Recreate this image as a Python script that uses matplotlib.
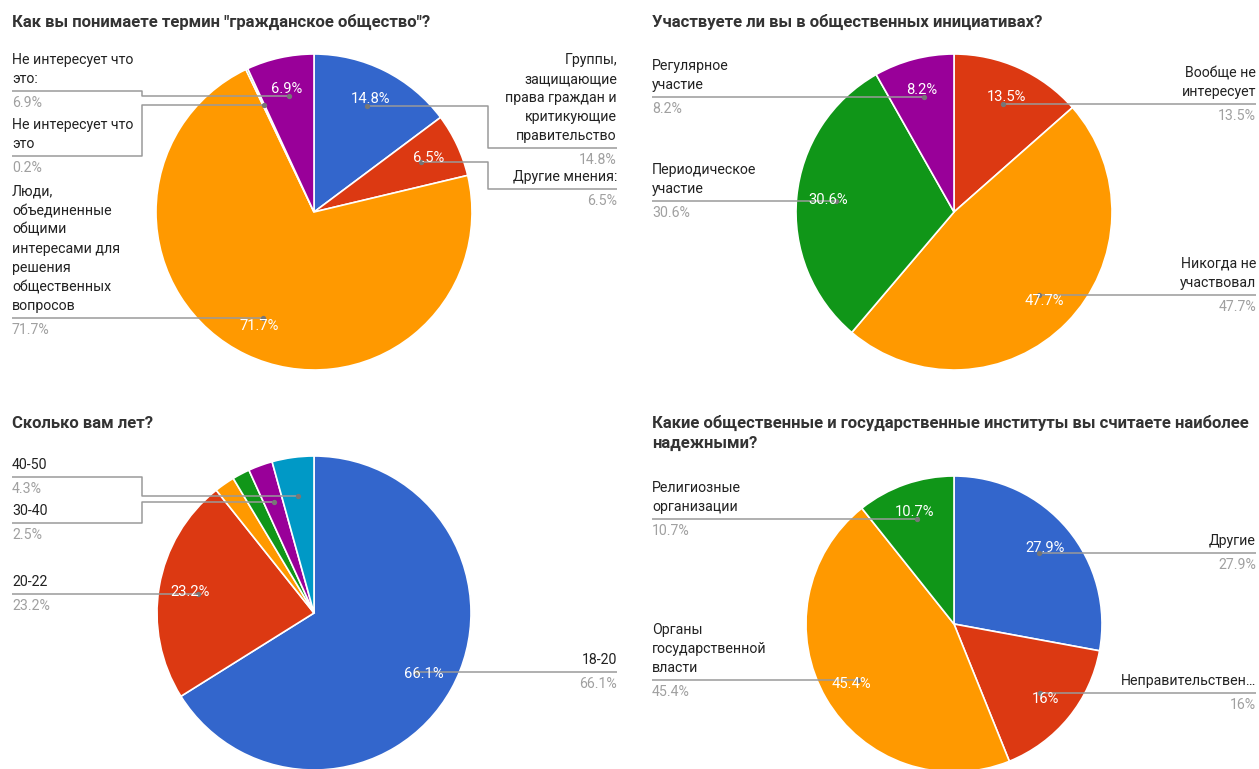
import matplotlib
matplotlib.use("Agg")
import matplotlib.pyplot as plt
import numpy as np

plt.rcParams['font.family'] = ['Roboto', 'DejaVu Sans']

W, H = 1259, 769

# ---------------- data ----------------
title1 = 'Как вы понимаете термин "гражданское общество"?'
labels1 = ['Группы,\nзащищающие\nправа граждан и\nкритикующие\nправительство',
           'Другие мнения:',
           'Люди,\nобъединенные\nобщими\nинтересами для\nрешения\nобщественных\nвопросов',
           'Не интересует что\nэто',
           'Не интересует что\nэто:']
values1 = [14.8, 6.5, 71.7, 0.2, 6.9]
pct1 = ['14.8%', '6.5%', '71.7%', '0.2%', '6.9%']

title2 = 'Участвуете ли вы в общественных инициативах?'
labels2 = ['Вообще не\nинтересует', 'Никогда не\nучаствовал',
           'Периодическое\nучастие', 'Регулярное\nучастие']
values2 = [13.5, 47.7, 30.6, 8.2]
pct2 = ['13.5%', '47.7%', '30.6%', '8.2%']

title3 = 'Сколько вам лет?'
labels3 = ['18-20', '20-22', '', '', '30-40', '40-50']
values3 = [66.1, 23.2, 2.1, 1.8, 2.5, 4.3]
pct3 = ['66.1%', '23.2%', '2.1%', '1.8%', '2.5%', '4.3%']

title4 = 'Какие общественные и государственные институты вы считаете наиболее\nнадежными?'
labels4 = ['Другие', 'Неправительствен…', 'Органы\nгосударственной\nвласти',
           'Религиозные\nорганизации']
values4 = [27.9, 16.0, 45.4, 10.7]
pct4 = ['27.9%', '16%', '45.4%', '10.7%']

BLUE, RED, ORANGE, GREEN, PURPLE, CYAN = '#3366cc', '#dc3912', '#ff9900', '#109618', '#990099', '#0099c6'
colors1 = [BLUE, RED, ORANGE, GREEN, PURPLE]
colors2 = [RED, ORANGE, GREEN, PURPLE]
colors3 = [BLUE, RED, ORANGE, GREEN, PURPLE, CYAN]
colors4 = [BLUE, RED, ORANGE, GREEN]

# ---------------- layout ----------------
charts = [
    dict(title=title1, tx=12, ty=22, c=(314, 212), r=158, labels=labels1, values=values1,
         pct=pct1, colors=colors1,
         side=['R', 'R', 'L', 'L', 'L'], liney=[148, 189, 318, 156, 91],
         elbow=[488, 488, None, 142, 142], lx=12, rx=617),
    dict(title=title2, tx=652, ty=22, c=(954, 212), r=158, labels=labels2, values=values2,
         pct=pct2, colors=colors2,
         side=['R', 'R', 'L', 'L'], liney=[104, 295, 201, 97],
         elbow=[None, None, None, None], lx=652, rx=1256),
    dict(title=title3, tx=12, ty=424, c=(314, 613), r=157, labels=labels3, values=values3,
         pct=pct3, colors=colors3,
         side=['R', 'L', None, None, 'L', 'L'], liney=[672, 594, 0, 0, 523, 477],
         elbow=[None, None, None, None, 142, 142], lx=12, rx=617),
    dict(title=title4, tx=652, ty=433, c=(954, 624), r=148, labels=labels4, values=values4,
         pct=pct4, colors=colors4,
         side=['R', 'R', 'L', 'L'], liney=[553, 693, 680, 519],
         elbow=[None, None, None, None], lx=652, rx=1256),
]

fig = plt.figure(figsize=(W / 100, H / 100), dpi=100)
ax = fig.add_axes([0, 0, 1, 1])

def Y(y):
    return H - y

LINE_C = '#9a9a9a'
TXT_C = '#222222'
VAL_C = '#a0a0a0'
FS = 10.2
PFS = 10.6
LH = 19

for ch in charts:
    cx, cy = ch['c']
    r = ch['r']
    vals = np.array(ch['values'])
    wedges, _ = ax.pie(vals, colors=ch['colors'], startangle=90, counterclock=False,
                       center=(cx, Y(cy)), radius=r, frame=True,
                       wedgeprops=dict(edgecolor='white', linewidth=1.2))
    ax.text(ch['tx'], Y(ch['ty']), ch['title'], fontsize=12.0, fontweight='bold',
            color='#333333', ha='left', va='center', linespacing=1.45)
    frac = vals / vals.sum()
    cum = np.cumsum(frac) - frac / 2
    for i, w in enumerate(wedges):
        ang = np.deg2rad(cum[i] * 360)  # clockwise from top
        sx, sy = np.sin(ang), np.cos(ang)
        if frac[i] >= 0.05:
            px, py = cx + 0.8 * r * sx, cy - 0.8 * r * sy
            ax.text(px, Y(py), ch['pct'][i], fontsize=PFS, color='white',
                    ha='center', va='center', zorder=8)
        side = ch['side'][i]
        if side is None:
            continue
        dx, dy = cx + 0.75 * r * sx, cy - 0.75 * r * sy
        ly = ch['liney'][i]
        x0 = ch['lx'] if side == 'L' else ch['rx']
        el = ch['elbow'][i]
        if el is None:
            xs = [x0, dx]
            ys = [ly, ly]
            dy_draw = ly
        else:
            xs = [x0, el, el, dx]
            ys = [ly, ly, dy, dy]
            dy_draw = dy
        ax.plot(xs, [Y(v) for v in ys], color=LINE_C, lw=1.1, solid_capstyle='butt', zorder=5)
        ax.plot([dx], [Y(dy_draw)], 'o', color='#777777', ms=2.8, zorder=6)
        lines = ch['labels'][i].split('\n')
        n = len(lines)
        ha = 'left' if side == 'L' else 'right'
        for k, t in enumerate(lines):
            yy = ly - 12 - (n - 1 - k) * LH
            ax.text(x0, Y(yy), t, fontsize=FS, color=TXT_C, ha=ha, va='center')
        ax.text(x0, Y(ly + 12), ch['pct'][i], fontsize=FS, color=VAL_C, ha=ha, va='center')

ax.set_xlim(0, W)
ax.set_ylim(0, H)
ax.set_aspect('equal')
ax.axis('off')
fig.savefig('out.png', dpi=100, facecolor='white')
